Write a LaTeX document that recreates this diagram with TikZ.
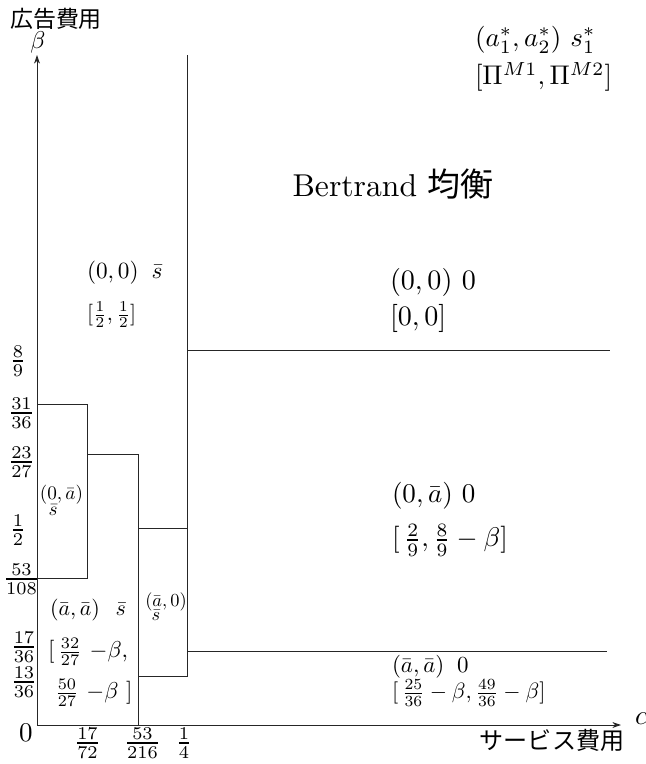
\documentclass[tikz,border=0pt]{standalone}
\usepackage{fontspec}
\newfontfamily\jpfont{Noto Sans CJK JP}
\usetikzlibrary{arrows.meta}
\begin{document}
\begin{tikzpicture}[x=0.37pt,y=-0.37pt,
  bound/.style={line width=0.35pt,draw=black!85,line join=miter},
  axis/.style={line width=0.35pt,draw=black!85,-{Stealth[length=3.2pt,width=2.2pt]}},
  lab/.style={inner sep=0pt,outer sep=0pt},
  tick/.style={lab,scale=0.95}]
\useasboundingbox (0,0) rectangle (646,764);

% corner points of the region boundaries
\coordinate (O) at (37,725);
\coordinate (Ytop) at (37,55);
\coordinate (Xend) at (621,725);
\coordinate (A1) at (37,404);
\coordinate (A2) at (87,404);
\coordinate (A3) at (87,578);
\coordinate (A4) at (37,578);
\coordinate (B1) at (87,454);
\coordinate (B2) at (138,454);
\coordinate (B3) at (138,725);
\coordinate (C1) at (138,528);
\coordinate (C2) at (187,528);
\coordinate (D1) at (187,55);
\coordinate (D2) at (187,676);
\coordinate (D3) at (138,676);
\coordinate (E1) at (187,651);
\coordinate (E2) at (607,651);
\coordinate (F1) at (187,350);
\coordinate (F2) at (610,350);

% axes
\draw[axis] (O) -- (Ytop);
\draw[axis] (O) -- (Xend);

% region boundaries
\draw[bound] (A1) -- (A2) -- (A3) -- (A4);
\draw[bound] (B1) -- (B2) -- (B3);
\draw[bound] (C1) -- (C2);
\draw[bound] (D1) -- (D2) -- (D3);
\draw[bound] (E1) -- (E2);
\draw[bound] (F1) -- (F2);

% axis titles
\node[lab] (ytitle) at (56,19) {\jpfont\fontsize{8.5pt}{10pt}\selectfont 広告費用};
\node[lab,scale=0.9] (ysym) at (38,42) {$\beta$};
\node[lab] (xtitle) at (552,740) {\jpfont\fontsize{8.9pt}{10pt}\selectfont サービス費用};
\node[lab,anchor=west] (xsym) at (635,719) {$\alpha$};

% legend
\node[lab,anchor=west] (key1) at (475,40) {$(a_1^*, a_2^*)\ s_1^*$};
\node[lab,anchor=west] (key2) at (475,77) {$[\Pi^{M1}, \Pi^{M2}]$};

% title of the outer region
\node[lab,scale=1.17] (eq) at (393,184) {Bertrand {\jpfont\fontsize{10.4pt}{12pt}\selectfont 均衡}};

% region labels
\node[lab,anchor=west,scale=0.86] (r00s) at (87,273) {$(0,0)\;\;\bar s$};
\node[lab,anchor=west,scale=0.8] (r00sp) at (87,315) {$[\frac12,\frac12]$};
\node[lab,anchor=west,scale=1.04] (r000) at (390,282) {$(0,0)\ 0$};
\node[lab,anchor=west,scale=1.04] (r000p) at (390,318) {$[0,0]$};
\node[lab,anchor=west] (r0a0) at (392,496) {$(0,\bar a)\ 0$};
\node[lab,anchor=west] (r0a0p) at (392,540) {$[\,\frac29, \frac89-\beta]$};
\node[lab,anchor=west,scale=0.85] (raa0) at (392,667) {$(\bar a,\bar a)\;\;0$};
\node[lab,anchor=west,scale=0.82] (raa0p) at (392,693) {$[\,\frac{25}{36}-\beta, \frac{49}{36}-\beta]$};

\node[lab,scale=0.71] (r0as) at (61.5,495) {$(0,\bar a)$};
\node[lab,scale=0.71] (r0as2) at (53,510) {$\bar s$};
\node[lab,anchor=west,scale=0.81] (raas) at (50,610) {$(\bar a,\bar a)\;\;\,\bar s$};
\node[lab,anchor=west,scale=0.85] (raasp1) at (48,652) {$[\,\frac{32}{27}\ {-}\beta,$};
\node[lab,anchor=west,scale=0.85] (raasp2) at (55,693) {$\frac{50}{27}\ {-}\beta\ ]$};
\node[lab,scale=0.68] (ra0s) at (166,602) {$(\bar a,0)$};
\node[lab,scale=0.68] (ra0s2) at (156,615) {$\bar s$};

% tick labels on the beta axis
\node[tick] (t89) at (18,361) {$\frac89$};
\node[tick] (t3136) at (21.5,413) {$\frac{31}{36}$};
\node[tick] (t2327) at (21.5,462) {$\frac{23}{27}$};
\node[tick] (t12) at (18,530) {$\frac12$};
\node[tick] (t53108) at (21.5,579) {$\frac{53}{108}$};
\node[tick] (t1736) at (24,647) {$\frac{17}{36}$};
\node[tick] (t1336) at (24,682) {$\frac{13}{36}$};
\node[lab] (t0) at (26,733) {$0$};

% tick labels on the alpha axis
\node[tick] (t1772) at (87.5,743) {$\frac{17}{72}$};
\node[tick] (t53216) at (142.5,743) {$\frac{53}{216}$};
\node[tick] (t14) at (184,743) {$\frac14$};
\end{tikzpicture}
\end{document}
